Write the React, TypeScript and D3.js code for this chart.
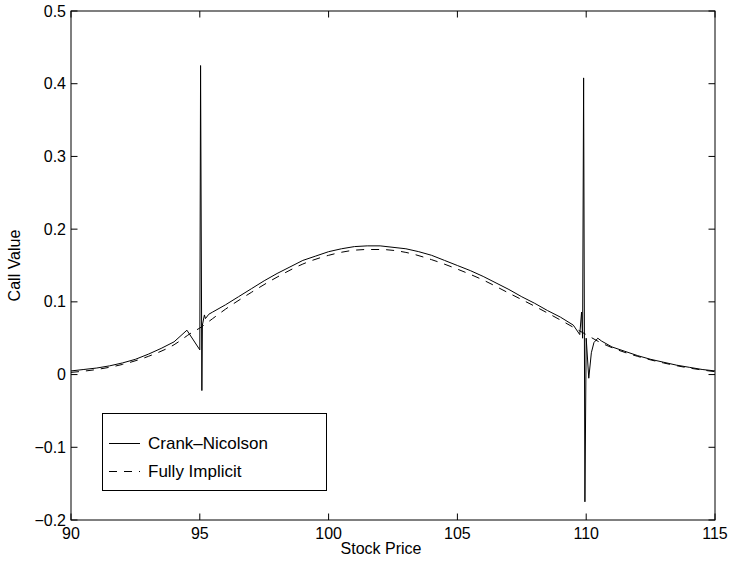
import React from "react";
import * as d3 from "d3";

const cnX = [90, 90.5, 91, 91.5, 92, 92.5, 93, 93.5, 94, 94.5, 95.0, 95.03, 95.08, 95.1, 95.18, 95.22, 95.35, 95.5, 96, 96.5, 97, 97.5, 98, 98.5, 99, 99.5, 100, 100.5, 101, 101.5, 102, 102.5, 103, 103.5, 104, 104.5, 105, 105.5, 106, 106.5, 107, 107.5, 108, 108.5, 109, 109.5, 109.75, 109.82, 109.86, 109.9, 109.95, 110.0, 110.1, 110.2, 110.3, 110.45, 110.6, 111, 111.5, 112, 112.5, 113, 113.5, 114, 114.5, 115];
const cnY = [0.005, 0.007, 0.009, 0.012, 0.016, 0.021, 0.028, 0.036, 0.045, 0.061, 0.034, 0.425, -0.022, 0.068, 0.082, 0.077, 0.083, 0.086, 0.096, 0.107, 0.118, 0.129, 0.139, 0.148, 0.157, 0.163, 0.169, 0.173, 0.176, 0.177, 0.177, 0.175, 0.173, 0.169, 0.164, 0.157, 0.15, 0.143, 0.135, 0.126, 0.117, 0.107, 0.098, 0.088, 0.079, 0.068, 0.055, 0.086, 0.05, 0.408, -0.175, 0.05, -0.005, 0.03, 0.044, 0.05, 0.046, 0.038, 0.032, 0.026, 0.021, 0.017, 0.013, 0.01, 0.007, 0.005];

const fiX = [90, 91, 92, 93, 94, 94.7, 95, 95.5, 96, 97, 98, 99, 100, 101, 101.5, 102, 103, 104, 105, 106, 107, 108, 109, 109.7, 110, 110.5, 111, 112, 113, 114, 115];
const fiY = [0.003, 0.007, 0.014, 0.025, 0.041, 0.058, 0.064, 0.077, 0.09, 0.113, 0.134, 0.152, 0.164, 0.171, 0.172, 0.172, 0.168, 0.158, 0.145, 0.13, 0.112, 0.094, 0.075, 0.061, 0.055, 0.045, 0.037, 0.025, 0.016, 0.009, 0.004];

const xTicks = [90, 95, 100, 105, 110, 115];
const yTicks = [-0.2, -0.1, 0, 0.1, 0.2, 0.3, 0.4, 0.5];
const seriesNames = ["Crank\u2013Nicolson", "Fully Implicit"];

const W = 730, H = 565;
const L = 71, R = 715, T = 11, B = 520;
const FONT = "'Liberation Sans', Arial, Helvetica, sans-serif";
const DASH = "8,7";

export default function App() {
  const x = d3.scaleLinear().domain([90, 115]).range([L, R]);
  const y = d3.scaleLinear().domain([-0.2, 0.5]).range([B, T]);
  const cnLine = d3.line<[number, number]>().x(d => x(d[0])).y(d => y(d[1])).curve(d3.curveLinear);
  const fiLine = d3.line<[number, number]>().x(d => x(d[0])).y(d => y(d[1])).curve(d3.curveMonotoneX);
  const cn = cnLine(cnX.map((v, i) => [v, cnY[i]] as [number, number])) || "";
  const fi = fiLine(fiX.map((v, i) => [v, fiY[i]] as [number, number])) || "";
  const tl = 6.5;
  const fmt = (v: number) => (v < 0 ? "\u2212" : "") + (Math.abs(v) < 1e-9 ? "0" : String(Math.abs(v)));
  return (
    <svg width={W} height={H} style={{ position: "absolute", left: 0, top: 0, background: "#fff" }} fontFamily={FONT}>
      <rect x={0} y={0} width={W} height={H} fill="#fff" />
      <defs>
        <clipPath id="clip"><rect x={L} y={T} width={R - L} height={B - T} /></clipPath>
      </defs>
      <g clipPath="url(#clip)">
        <path d={fi} fill="none" stroke="#000" strokeWidth={1} strokeDasharray={DASH} />
        <path d={cn} fill="none" stroke="#000" strokeWidth={1} strokeLinejoin="miter" />
      </g>
      <rect x={L} y={T} width={R - L} height={B - T} fill="none" stroke="#000" strokeWidth={1} />
      {xTicks.map(t => (
        <g key={"x" + t}>
          <line x1={x(t)} x2={x(t)} y1={B} y2={B - tl} stroke="#000" />
          <line x1={x(t)} x2={x(t)} y1={T} y2={T + tl} stroke="#000" />
          <text x={x(t)} y={B + 8} fontSize={16} textAnchor="middle" dominantBaseline="hanging">{t}</text>
        </g>
      ))}
      {yTicks.map(t => (
        <g key={"y" + t}>
          <line x1={L} x2={L + tl} y1={y(t)} y2={y(t)} stroke="#000" />
          <line x1={R} x2={R - tl} y1={y(t)} y2={y(t)} stroke="#000" />
          <text x={L - 5} y={y(t)} fontSize={16} textAnchor="end" dominantBaseline="central">{fmt(t)}</text>
        </g>
      ))}
      <text x={381} y={554} fontSize={16} textAnchor="middle">Stock Price</text>
      <text transform={`translate(20,${(T + B) / 2}) rotate(-90)`} fontSize={16} textAnchor="middle">Call Value</text>
      <g>
        <rect x={102.5} y={413.5} width={224} height={77} fill="#fff" stroke="#000" strokeWidth={1} />
        <line x1={109} x2={140} y1={443.5} y2={443.5} stroke="#000" />
        <text x={148} y={443.5} fontSize={17} dominantBaseline="central">{seriesNames[0]}</text>
        <line x1={109} x2={140} y1={471.5} y2={471.5} stroke="#000" strokeDasharray={DASH} />
        <text x={148} y={471.5} fontSize={17} dominantBaseline="central">{seriesNames[1]}</text>
      </g>
    </svg>
  );
}
